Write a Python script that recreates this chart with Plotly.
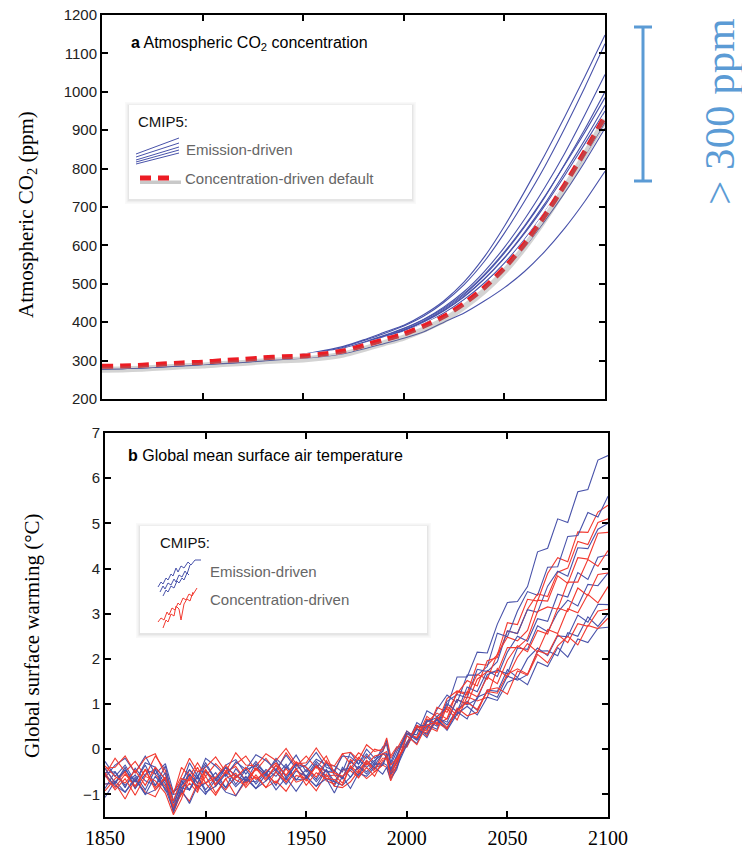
import plotly.graph_objects as go

W, H = 742, 852

# ---------------- data: panel a (CO2, ppm) ----------------
CO2_YEARS = [1850, 1860, 1870, 1880, 1890, 1900, 1910, 1920, 1930, 1940, 1950, 1960, 1970,
             1980, 1990, 2000, 2010, 2020, 2030, 2040, 2050, 2060, 2070, 2080, 2090, 2100]
CO2_CONC_DEFAULT = [285, 286, 288, 291, 294, 296, 300, 303, 307, 310, 312, 317, 325,
                    339, 354, 369, 390, 415, 449, 490, 541, 604, 677, 758, 845, 936]
CO2_EMIS_1 = [281, 282, 284, 287, 290, 293, 298, 302, 307, 313, 317, 326, 337, 354, 373, 392, 420, 456, 505, 570, 650, 740, 835, 935, 1040, 1148]
CO2_EMIS_2 = [280, 281, 283, 286, 289, 292, 297, 301, 306, 312, 316, 324, 335, 352, 370, 390, 416, 452, 498, 558, 632, 715, 805, 905, 1012, 1125]
CO2_EMIS_3 = [280, 281, 283, 286, 289, 292, 296, 300, 305, 310, 314, 322, 332, 348, 365, 384, 408, 440, 480, 532, 595, 668, 750, 840, 940, 1045]
CO2_EMIS_4 = [279, 280, 282, 285, 288, 291, 295, 299, 304, 309, 313, 320, 330, 345, 362, 380, 404, 434, 472, 521, 580, 648, 725, 812, 903, 1000]
CO2_EMIS_5 = [280, 281, 283, 286, 289, 292, 296, 300, 305, 310, 314, 321, 331, 346, 364, 383, 407, 437, 475, 524, 583, 651, 727, 810, 895, 985]
CO2_EMIS_6 = [279, 280, 282, 285, 288, 291, 295, 299, 303, 308, 312, 319, 328, 343, 360, 378, 401, 430, 466, 512, 568, 634, 708, 790, 875, 965]
CO2_EMIS_7 = [280, 281, 283, 286, 289, 292, 296, 300, 304, 309, 313, 320, 329, 344, 361, 379, 402, 431, 468, 513, 567, 631, 703, 782, 865, 950]
CO2_EMIS_8 = [279, 280, 282, 285, 288, 291, 295, 298, 302, 307, 311, 317, 326, 340, 357, 374, 396, 424, 459, 502, 554, 616, 687, 765, 848, 935]
CO2_EMIS_9 = [278, 279, 281, 284, 287, 290, 294, 297, 301, 306, 310, 316, 324, 338, 354, 370, 391, 418, 452, 494, 545, 606, 676, 752, 834, 920]
CO2_EMIS_10 = [278, 279, 281, 284, 287, 290, 293, 296, 300, 305, 309, 315, 323, 336, 351, 367, 387, 413, 446, 487, 536, 595, 663, 737, 818, 905]
CO2_EMIS_11 = [278, 279, 281, 283, 286, 289, 292, 295, 299, 303, 306, 311, 318, 330, 344, 358, 375, 400, 424, 455, 490, 532, 584, 645, 715, 793]
CO2_EMIS = [CO2_EMIS_1, CO2_EMIS_2, CO2_EMIS_3, CO2_EMIS_4, CO2_EMIS_5, CO2_EMIS_6,
            CO2_EMIS_7, CO2_EMIS_8, CO2_EMIS_9, CO2_EMIS_10, CO2_EMIS_11]

# ---------------- data: panel b (warming, degC) ----------------
T_YEARS = [1850, 1855, 1860, 1865, 1870, 1875, 1880, 1884, 1888, 1892, 1896, 1900, 1905, 1910,
           1915, 1920, 1925, 1930, 1935, 1940, 1945, 1950, 1955, 1960, 1964, 1968, 1972, 1976,
           1980, 1984, 1988, 1990, 1992, 1995, 2000, 2005, 2010, 2015, 2020, 2025, 2030, 2035,
           2040, 2045, 2050, 2055, 2060, 2065, 2070, 2075, 2080, 2085, 2090, 2095, 2100]

T_EMIS_1 = [-0.27, -0.6, -0.35, -0.72, -0.3, -0.4, -0.67, -0.95, -0.8, -0.3, -0.6, -0.3, -0.67, -0.35, -0.23, -0.55, -0.27, -0.55, -0.2, -0.43, -0.13, -0.5, -0.22, -0.35, -0.37, -0.5, -0.07, -0.33, -0.1, -0.3, 0.05, 0.1, -0.35, -0.05,
            0.35, 0.32, 0.85, 0.72, 0.93, 1.6, 1.6, 2.15, 2.13, 2.77, 3.25, 3.27, 3.6, 4.37, 4.45, 5.1, 5.02, 5.7, 5.75, 6.4, 6.5]
T_EMIS_2 = [-0.87, -0.5, -0.8, -0.57, -0.9, -0.45, -0.77, -1.3, -0.7, -0.9, -0.6, -0.9, -0.62, -0.85, -0.63, -0.45, -0.77, -0.5, -0.8, -0.38, -0.68, -0.45, -0.72, -0.45, -0.82, -0.4, -0.62, -0.38, -0.5, -0.3, -0.35, -0.15, -0.5, -0.3,
            0.1, 0.59, 0.44, 0.88, 1.2, 1.03, 1.64, 1.64, 1.83, 2.57, 2.49, 3.06, 3.49, 3.41, 4.03, 4.04, 4.71, 4.73, 5.24, 5.14, 5.6]
T_EMIS_3 = [-0.52, -0.5, -0.85, -0.42, -0.7, -0.8, -0.37, -1.15, -0.7, -0.9, -0.5, -0.5, -0.77, -0.4, -0.78, -0.45, -0.37, -0.6, -0.45, -0.68, -0.33, -0.4, -0.67, -0.3, -0.57, -0.6, -0.47, -0.23, -0.4, -0.25, -0.1, -0.15, -0.45, -0.15,
            0.4, 0.22, 0.64, 0.51, 1.06, 1.21, 1.14, 1.77, 1.72, 1.94, 2.62, 2.56, 3.09, 3.03, 3.61, 3.94, 3.83, 4.46, 4.44, 4.87, 5.0]
T_EMIS_4 = [-0.62, -0.35, -0.2, -0.52, -0.15, -0.55, -0.32, -0.95, -0.7, -0.45, -0.65, -0.2, -0.37, -0.6, -0.28, -0.45, -0.12, -0.25, -0.45, -0.13, -0.43, -0.35, -0.07, -0.4, -0.47, -0.15, -0.17, -0.33, 0.0, -0.2, -0.05, 0.2, -0.3, 0.05,
            0.05, 0.5, 0.54, 0.44, 1.01, 0.83, 1.38, 1.27, 1.74, 1.61, 2.15, 2.5, 2.39, 2.89, 2.83, 3.43, 3.37, 3.91, 3.76, 4.25, 4.3]
T_EMIS_5 = [-1.07, -0.7, -0.95, -0.62, -1.0, -0.9, -0.67, -1.4, -0.9, -1.2, -0.8, -1.0, -0.67, -0.95, -1.03, -0.65, -0.87, -0.55, -0.9, -0.63, -0.93, -0.6, -0.82, -0.65, -0.97, -0.6, -0.87, -0.53, -0.6, -0.4, -0.55, -0.4, -0.65, -0.45,
            0.3, 0.13, 0.61, 0.7, 0.6, 1.1, 0.98, 1.11, 1.65, 1.75, 1.67, 2.24, 2.21, 2.73, 2.6, 3.03, 3.3, 3.17, 3.65, 3.62, 3.9]
T_EMIS_6 = [-0.77, -0.75, -0.4, -0.87, -0.55, -0.45, -0.92, -1.0, -0.95, -0.55, -0.85, -0.75, -0.52, -0.85, -0.43, -0.7, -0.72, -0.45, -0.6, -0.33, -0.68, -0.65, -0.32, -0.65, -0.72, -0.45, -0.42, -0.58, -0.25, -0.4, -0.35, -0.1, -0.5, -0.3,
            0.15, 0.46, 0.26, 0.72, 0.54, 0.87, 1.06, 0.86, 1.31, 1.28, 1.76, 1.59, 2.01, 2.24, 2.07, 2.51, 2.49, 2.97, 2.81, 3.21, 3.2]
T_EMIS_7 = [-0.42, -0.75, -0.45, -0.72, -0.35, -0.8, -0.52, -1.2, -0.8, -0.55, -0.75, -0.35, -0.67, -0.4, -0.58, -0.7, -0.32, -0.55, -0.25, -0.63, -0.33, -0.6, -0.27, -0.5, -0.47, -0.65, -0.27, -0.43, -0.15, -0.35, -0.1, -0.1, -0.45, -0.15,
            0.35, 0.2, 0.5, 0.65, 0.46, 0.83, 0.67, 1.15, 1.25, 1.15, 1.62, 1.53, 1.65, 2.17, 2.18, 2.07, 2.58, 2.5, 2.93, 2.72, 3.0]
T_EMIS_8 = [-0.57, -0.8, -0.95, -0.67, -1.0, -0.6, -0.87, -1.35, -0.85, -0.9, -0.6, -0.95, -0.82, -0.55, -0.83, -0.6, -0.87, -0.7, -0.5, -0.78, -0.48, -0.6, -0.82, -0.45, -0.72, -0.8, -0.62, -0.38, -0.55, -0.35, -0.3, -0.35, -0.55, -0.4,
            0.1, 0.44, 0.33, 0.67, 0.42, 0.78, 0.95, 0.76, 1.15, 1.08, 1.48, 1.58, 1.43, 1.93, 1.83, 2.25, 2.04, 2.44, 2.36, 2.68, 2.7]
T_EMIS = [T_EMIS_1, T_EMIS_2, T_EMIS_3, T_EMIS_4, T_EMIS_5, T_EMIS_6, T_EMIS_7, T_EMIS_8]

T_CONC_1 = [-0.57, -0.2, -0.5, -0.27, -0.6, -0.15, -0.47, -1.0, -0.4, -0.6, -0.3, -0.6, -0.32, -0.55, -0.33, -0.15, -0.47, -0.2, -0.5, -0.08, -0.38, -0.15, -0.42, -0.15, -0.52, -0.1, -0.32, -0.08, -0.2, 0.0, -0.05, 0.15, -0.2, 0.0,
            0.4, 0.24, 0.67, 0.56, 1.12, 1.29, 1.24, 1.89, 1.86, 2.09, 2.8, 2.76, 3.32, 3.28, 3.89, 4.24, 4.15, 4.81, 4.8, 5.25, 5.4]
T_CONC_2 = [-0.92, -0.65, -0.5, -0.82, -0.45, -0.85, -0.62, -1.3, -1.0, -0.75, -0.95, -0.5, -0.67, -0.9, -0.58, -0.75, -0.42, -0.55, -0.75, -0.43, -0.73, -0.65, -0.37, -0.7, -0.77, -0.45, -0.47, -0.63, -0.3, -0.5, -0.35, -0.1, -0.6, -0.25,
            0.15, 0.53, 0.4, 0.93, 0.82, 1.23, 1.52, 1.4, 1.96, 2.03, 2.62, 2.56, 3.1, 3.44, 3.38, 3.92, 4.01, 4.6, 4.53, 5.02, 5.1]
T_CONC_3 = [-0.42, -0.75, -0.5, -0.87, -0.45, -0.55, -0.82, -1.25, -0.95, -0.45, -0.75, -0.45, -0.82, -0.5, -0.38, -0.7, -0.42, -0.7, -0.35, -0.58, -0.28, -0.65, -0.37, -0.5, -0.52, -0.65, -0.22, -0.48, -0.25, -0.45, -0.1, -0.05, -0.5, -0.2,
            0.35, 0.26, 0.73, 0.54, 0.68, 1.28, 1.2, 1.66, 1.55, 2.11, 2.48, 2.4, 2.63, 3.3, 3.28, 3.84, 3.67, 4.24, 4.21, 4.78, 4.8]
T_CONC_4 = [-0.77, -0.75, -1.1, -0.67, -0.95, -1.05, -0.62, -1.4, -0.95, -1.15, -0.75, -0.75, -1.02, -0.65, -1.03, -0.7, -0.62, -0.85, -0.7, -0.93, -0.58, -0.65, -0.92, -0.55, -0.82, -0.85, -0.72, -0.48, -0.65, -0.5, -0.35, -0.4, -0.7, -0.4,
            0.35, 0.25, 0.6, 0.8, 0.67, 1.1, 1.0, 1.55, 1.72, 1.7, 2.25, 2.25, 2.45, 3.05, 3.15, 3.1, 3.7, 3.7, 4.2, 4.05, 4.4]
T_CONC_5 = [-0.42, -0.4, -0.15, -0.52, -0.2, -0.1, -0.57, -0.95, -0.6, -0.2, -0.5, -0.4, -0.17, -0.5, -0.08, -0.35, -0.37, -0.1, -0.25, 0.02, -0.33, -0.3, 0.03, -0.3, -0.37, -0.1, -0.07, -0.23, 0.1, -0.05, 0.0, 0.25, -0.15, 0.05,
            0.05, 0.48, 0.51, 0.4, 0.95, 0.75, 1.28, 1.16, 1.6, 1.45, 1.97, 2.29, 2.16, 2.63, 2.55, 3.13, 3.05, 3.57, 3.4, 3.87, 3.9]
T_CONC_6 = [-0.52, -0.85, -0.55, -0.82, -0.45, -0.9, -0.62, -1.35, -0.85, -0.65, -0.85, -0.45, -0.77, -0.5, -0.68, -0.8, -0.42, -0.65, -0.35, -0.73, -0.43, -0.7, -0.37, -0.6, -0.57, -0.75, -0.37, -0.53, -0.25, -0.45, -0.2, -0.2, -0.55, -0.25,
            0.1, 0.52, 0.29, 0.66, 0.9, 0.65, 1.16, 1.07, 1.15, 1.79, 1.59, 2.04, 2.34, 2.15, 2.65, 2.56, 3.11, 3.02, 3.43, 3.24, 3.6]
T_CONC_7 = [-0.37, -0.6, -0.75, -0.47, -0.8, -0.4, -0.67, -1.15, -0.65, -0.7, -0.4, -0.75, -0.62, -0.35, -0.63, -0.4, -0.67, -0.5, -0.3, -0.58, -0.28, -0.4, -0.62, -0.25, -0.52, -0.6, -0.42, -0.18, -0.35, -0.15, -0.1, -0.15, -0.35, -0.2,
            0.1, 0.45, 0.36, 0.71, 0.48, 0.85, 1.04, 0.88, 1.28, 1.24, 1.66, 1.78, 1.66, 2.18, 2.1, 2.54, 2.36, 2.78, 2.72, 3.06, 3.1]
T_CONC_8 = [-0.57, -0.9, -0.65, -1.02, -0.6, -0.7, -0.97, -1.45, -1.1, -0.6, -0.9, -0.6, -0.97, -0.65, -0.53, -0.85, -0.57, -0.85, -0.5, -0.73, -0.43, -0.8, -0.52, -0.65, -0.67, -0.8, -0.37, -0.63, -0.4, -0.6, -0.25, -0.2, -0.65, -0.35,
            0.3, 0.1, 0.54, 0.59, 0.45, 0.91, 0.74, 0.82, 1.31, 1.36, 1.22, 1.73, 1.64, 2.1, 1.91, 2.29, 2.5, 2.31, 2.74, 2.67, 2.9]
T_CONC = [T_CONC_1, T_CONC_2, T_CONC_3, T_CONC_4, T_CONC_5, T_CONC_6, T_CONC_7, T_CONC_8]

X_TICKS = [1850, 1900, 1950, 2000, 2050, 2100]
CO2_TICKS = [200, 300, 400, 500, 600, 700, 800, 900, 1000, 1100, 1200]
T_TICKS = [-1, 0, 1, 2, 3, 4, 5, 6, 7]

# ---------------- style ----------------
BLUE = "rgb(72,82,170)"
RED = "rgb(242,58,48)"
DASH_RED = "rgb(236,28,36)"
ACCENT = "rgb(91,155,213)"
SANS = "Liberation Sans, Arial, sans-serif"
SERIF = "Liberation Serif, Times New Roman, serif"


def px(x):
    return x / W


def py(y):
    return 1 - y / H


fig = go.Figure()

# panel a
for vals in CO2_EMIS:
    fig.add_trace(go.Scatter(x=CO2_YEARS, y=vals, mode="lines",
                             line=dict(color=BLUE, width=1.1, shape="spline", smoothing=0.6),
                             xaxis="x", yaxis="y", showlegend=False, hoverinfo="skip"))
fig.add_trace(go.Scatter(x=CO2_YEARS, y=CO2_CONC_DEFAULT, mode="lines",
                         line=dict(color="rgba(130,130,130,0.35)", width=6, shape="spline", smoothing=0.6),
                         xaxis="x", yaxis="y3", showlegend=False, hoverinfo="skip"))
fig.add_trace(go.Scatter(x=CO2_YEARS, y=CO2_CONC_DEFAULT, mode="lines",
                         line=dict(color="white", width=5, shape="spline", smoothing=0.6),
                         xaxis="x", yaxis="y", showlegend=False, hoverinfo="skip"))
fig.add_trace(go.Scatter(x=CO2_YEARS, y=CO2_CONC_DEFAULT, mode="lines",
                         line=dict(color=DASH_RED, width=5, dash="11px,7px", shape="spline", smoothing=0.6),
                         xaxis="x", yaxis="y", showlegend=False, hoverinfo="skip"))

# panel b
for i in range(max(len(T_EMIS), len(T_CONC))):
    if i < len(T_EMIS):
        v = T_EMIS[i]
        fig.add_trace(go.Scatter(x=T_YEARS[:len(v)], y=v, mode="lines", line=dict(color=BLUE, width=1.1),
                                 xaxis="x2", yaxis="y2", showlegend=False, hoverinfo="skip"))
    if i < len(T_CONC):
        v = T_CONC[i]
        fig.add_trace(go.Scatter(x=T_YEARS[:len(v)], y=v, mode="lines", line=dict(color=RED, width=1.1),
                                 xaxis="x2", yaxis="y2", showlegend=False, hoverinfo="skip"))

axis_common = dict(showgrid=False, zeroline=False, showline=True, linecolor="black", linewidth=2,
                   mirror="ticks", ticks="inside", ticklen=6, tickwidth=1.6, tickcolor="black",
                   automargin=False)

top_dom = [py(399), py(15)]
bot_dom = [py(817), py(433)]

fig.update_layout(
    width=W, height=H, margin=dict(l=0, r=0, t=0, b=0, pad=0),
    paper_bgcolor="white", plot_bgcolor="white",
    xaxis=dict(domain=[px(102), px(605)], range=[1850, 2100], tickvals=X_TICKS, showticklabels=False,
               anchor="y", **axis_common),
    yaxis=dict(domain=top_dom, range=[200, 1200], tickvals=CO2_TICKS, anchor="x",
               tickfont=dict(family=SANS, size=15, color="#222"), **axis_common),
    yaxis3=dict(domain=top_dom, range=[209, 1209], overlaying="y", visible=False, anchor="x"),
    xaxis2=dict(domain=[px(105), px(608)], range=[1850, 2100], tickvals=X_TICKS, anchor="y2",
                tickfont=dict(family=SERIF, size=20, color="black"), ticklabelstandoff=2, **axis_common),
    yaxis2=dict(domain=bot_dom, range=[-1.5, 7], tickvals=T_TICKS, anchor="x2",
                tickfont=dict(family=SANS, size=15, color="#222"), **axis_common),
)

shapes = []
annotations = []

# axis titles
annotations.append(dict(text="Atmospheric CO<sub>2</sub> (ppm)", x=px(27), y=py(215), xref="paper", yref="paper",
                        xanchor="center", yanchor="middle",
                        textangle=-90, showarrow=False, font=dict(family=SERIF, size=21, color="black")))
annotations.append(dict(text="Global surface warming (°C)", x=px(32), y=py(636), xref="paper", yref="paper",
                        xanchor="center", yanchor="middle",
                        textangle=-90, showarrow=False, font=dict(family=SERIF, size=21, color="black")))

# panel titles
annotations.append(dict(text="<b>a</b> Atmospheric CO<sub>2</sub> concentration", x=px(129), y=py(44),
                        xref="paper", yref="paper", xanchor="left", yanchor="middle", showarrow=False,
                        font=dict(family=SANS, size=16, color="black")))
annotations.append(dict(text="<b>b</b> Global mean surface air temperature", x=px(126), y=py(455),
                        xref="paper", yref="paper", xanchor="left", yanchor="middle", showarrow=False,
                        font=dict(family=SANS, size=16, color="black")))

# legend boxes (with soft shadow)
for (x0, y0, x1, y1) in [(129, 105, 412, 199), (140, 526, 427, 633)]:
    for k, a in [(4, 0.025), (2.5, 0.035), (1.2, 0.045)]:
        shapes.append(dict(type="rect", xref="paper", yref="paper", x0=px(x0 - k), x1=px(x1 + k),
                           y0=py(y1 + k + 1), y1=py(y0 - k + 1), fillcolor=f"rgba(0,0,0,{a})",
                           line=dict(width=0), layer="above"))
    shapes.append(dict(type="rect", xref="paper", yref="paper", x0=px(x0), x1=px(x1), y0=py(y1), y1=py(y0),
                       fillcolor="white", line=dict(width=0), layer="above"))

# legend a
annotations.append(dict(text="CMIP5:", x=px(136), y=py(121), xref="paper", yref="paper", xanchor="left",
                        yanchor="middle", showarrow=False, font=dict(family=SANS, size=15, color="#111")))
for (ya, yb) in [(154, 138), (157, 143), (160, 147), (162, 150), (164, 153)]:
    shapes.append(dict(type="line", xref="paper", yref="paper", x0=px(136), x1=px(179), y0=py(ya), y1=py(yb),
                       line=dict(color=BLUE, width=1), layer="above"))
annotations.append(dict(text="Emission-driven", x=px(184), y=py(149), xref="paper", yref="paper", xanchor="left",
                        yanchor="middle", showarrow=False, font=dict(family=SANS, size=15, color="#666")))
shapes.append(dict(type="line", xref="paper", yref="paper", x0=px(140), x1=px(181), y0=py(181), y1=py(181),
                   line=dict(color="rgba(120,120,120,0.4)", width=6), layer="above"))
shapes.append(dict(type="line", xref="paper", yref="paper", x0=px(140), x1=px(181), y0=py(178), y1=py(178),
                   line=dict(color="white", width=5), layer="above"))
shapes.append(dict(type="line", xref="paper", yref="paper", x0=px(140), x1=px(176), y0=py(178), y1=py(178),
                   line=dict(color=DASH_RED, width=5, dash="11px,7px"), layer="above"))
annotations.append(dict(text="Concentration-driven default", x=px(183), y=py(179), xref="paper", yref="paper",
                        xanchor="left", yanchor="middle", showarrow=False,
                        font=dict(family=SANS, size=15, color="#666")))

# legend b
annotations.append(dict(text="CMIP5:", x=px(158), y=py(542), xref="paper", yref="paper", xanchor="left",
                        yanchor="middle", showarrow=False, font=dict(family=SANS, size=15, color="#111")))


def zig(pts):
    return "M " + " L ".join(f"{px(a)},{py(b)}" for a, b in pts)


blue_glyphs = [
    [(158, 587), (161, 582), (163, 584), (166, 578), (168, 580), (171, 574), (173, 576), (176, 568), (178, 572), (181, 566), (184, 568), (188, 562), (191, 565), (195, 560), (201, 560)],
    [(160, 592), (163, 586), (165, 589), (168, 583), (171, 585), (174, 579), (176, 582), (179, 575), (182, 577), (185, 571), (187, 574), (190, 565)],
    [(163, 596), (166, 590), (168, 592), (171, 586), (174, 588), (177, 581), (179, 583), (182, 578), (184, 580), (187, 573), (189, 575)],
]
red_glyphs = [
    [(158, 622), (161, 618), (164, 620), (167, 612), (169, 615), (172, 608), (175, 610), (178, 603), (180, 605), (183, 598), (186, 600), (189, 594), (192, 596), (197, 588)],
    [(163, 628), (166, 620), (168, 622), (171, 614), (174, 616), (176, 606), (179, 609), (181, 620), (184, 604), (187, 599), (190, 601), (193, 592)],
]
for g in blue_glyphs:
    shapes.append(dict(type="path", xref="paper", yref="paper", path=zig(g), line=dict(color=BLUE, width=1),
                       layer="above"))
for g in red_glyphs:
    shapes.append(dict(type="path", xref="paper", yref="paper", path=zig(g), line=dict(color=RED, width=1),
                       layer="above"))
annotations.append(dict(text="Emission-driven", x=px(208), y=py(571), xref="paper", yref="paper", xanchor="left",
                        yanchor="middle", showarrow=False, font=dict(family=SANS, size=15, color="#666")))
annotations.append(dict(text="Concentration-driven", x=px(208), y=py(599), xref="paper", yref="paper",
                        xanchor="left", yanchor="middle", showarrow=False,
                        font=dict(family=SANS, size=15, color="#666")))

# > 300 ppm bracket
shapes.append(dict(type="line", xref="paper", yref="paper", x0=px(643), x1=px(643), y0=py(27), y1=py(181),
                   line=dict(color=ACCENT, width=3)))
for yy in (27, 181):
    shapes.append(dict(type="line", xref="paper", yref="paper", x0=px(634), x1=px(652), y0=py(yy), y1=py(yy),
                       line=dict(color=ACCENT, width=3)))
annotations.append(dict(text="> 300 ppm", x=px(719), y=py(112), xref="paper", yref="paper", textangle=-90,
                        xanchor="center", yanchor="middle",
                        showarrow=False, font=dict(family=SERIF, size=43, color=ACCENT)))

fig.update_layout(shapes=shapes, annotations=annotations)
fig.write_html("out.html")
